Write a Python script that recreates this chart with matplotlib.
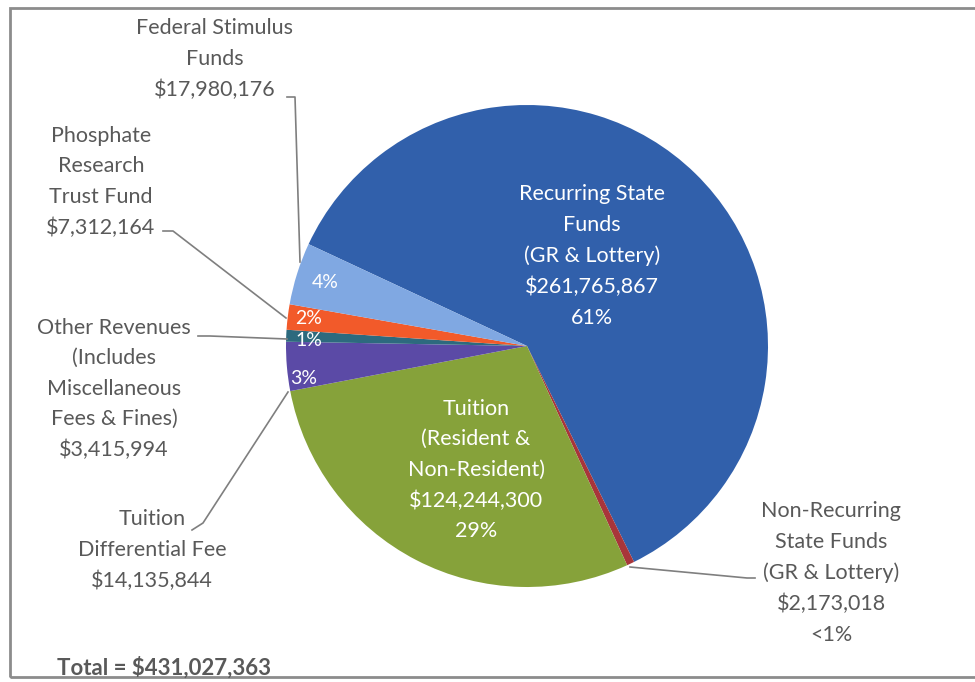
import matplotlib.pyplot as plt
from matplotlib.patches import Rectangle

W, H = 975, 682

# slices, clockwise from the big blue one
sources = [
    "Recurring State Funds",
    "Non-Recurring State Funds",
    "Tuition",
    "Tuition Differential Fee",
    "Other Revenues",
    "Phosphate Research Trust Fund",
    "Federal Stimulus Funds",
]
amounts = [261765867, 2173018, 124244300, 14135844, 3415994, 7312164, 17980176]
colors = ["#3160ab", "#a8353a", "#86a23a", "#5b4aa6", "#2d6a7e", "#f25a2a", "#80a8e2"]
total = sum(amounts)

GRAY = "#595959"
LINE = "#7f7f7f"
FONT = "Lato"

fig = plt.figure(figsize=(W / 100, H / 100), dpi=100)
ax = fig.add_axes([0, 0, 1, 1])

def py(y):
    # pixel row -> data y
    return H - y

cx, cy, r = 527, py(346), 241
ax.pie(amounts, colors=colors, startangle=155, counterclock=False,
       center=(cx, cy), radius=r,
       wedgeprops=dict(edgecolor="none"))
ax.set_xlim(0, W)
ax.set_ylim(0, H)
ax.set_aspect("equal")
ax.axis("off")

def money(v):
    return "${:,}".format(v)

# frame
ax.add_patch(Rectangle((10, py(677)), 990, 669, fill=False, edgecolor="#8c8c8c", lw=2))

def label(x, y, txt, color=GRAY, size=15.5, weight="normal", ha="center"):
    ax.text(x, py(y), txt, ha=ha, va="center", color=color, fontsize=size,
            family=FONT, weight=weight, linespacing=1.66, multialignment="center")

# inside labels
label(592, 256, "Recurring State\nFunds\n(GR & Lottery)\n%s\n61%%" % money(amounts[0]), color="white")
label(476, 470, "Tuition\n(Resident &\nNon-Resident)\n%s\n29%%" % money(amounts[2]), color="white")
for (x, y), a in zip([(325, 283), (309, 318), (309, 340), (304, 378)],
                     [amounts[6], amounts[5], amounts[4], amounts[3]]):
    label(x, y, "%d%%" % round(a / total * 100), color="white", size=14)

# outside labels
label(215, 59, "Federal Stimulus\nFunds\n%s" % money(amounts[6]))
label(101, 182, "Phosphate\nResearch\nTrust Fund\n%s" % money(amounts[5]))
label(114, 389, "Other Revenues\n(Includes\nMiscellaneous\nFees & Fines)\n%s" % money(amounts[4]))
label(152, 550, "Tuition\nDifferential Fee\n%s" % money(amounts[3]))
label(831, 573, "Non-Recurring\nState Funds\n(GR & Lottery)\n%s\n<1%%" % money(amounts[1]))
label(57, 668, "Total = %s" % money(total), weight="bold", size=16, ha="left")

# leader lines
def leader(pts):
    ax.plot([p[0] for p in pts], [py(p[1]) for p in pts], color=LINE, lw=1.2)

leader([(287, 97), (295, 97), (300, 262)])
leader([(163, 231), (173, 231), (286, 318)])
leader([(198, 336), (210, 336), (287, 339)])
leader([(192, 530), (203, 523), (288, 392)])
leader([(630, 567), (747, 578), (755, 578)])

fig.savefig("out.png", dpi=100)
